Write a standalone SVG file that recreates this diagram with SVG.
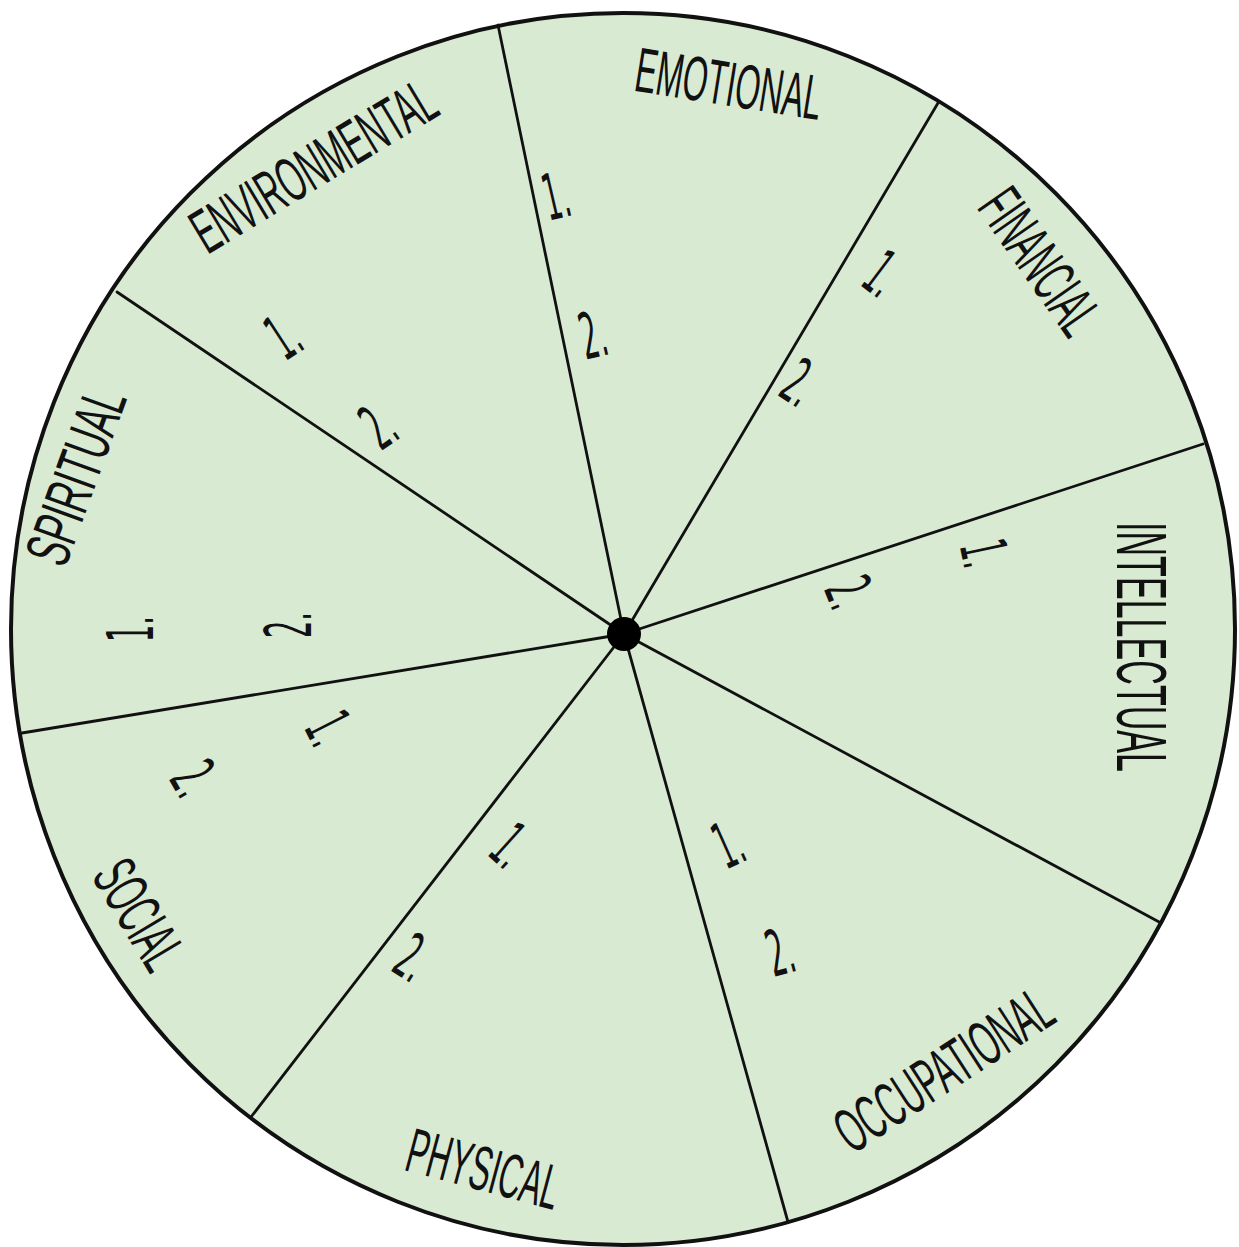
<svg xmlns="http://www.w3.org/2000/svg" width="1239" height="1247" viewBox="0 0 1239 1247">
<style>
.lbl{font-family:"Liberation Sans","Arial",sans-serif;font-size:36px;fill:#111;text-anchor:middle}
.num{font-family:"DejaVu Sans","Liberation Sans",sans-serif;font-size:32px;fill:#111;text-anchor:middle}
.spoke{stroke:#111;stroke-width:2.8;fill:none;stroke-linecap:round}
</style>
<rect width="1239" height="1247" fill="#ffffff"/>
<g id="wheel">
<ellipse cx="623" cy="629" rx="612" ry="616" fill="#d9ead3" stroke="#111" stroke-width="4"/>
</g>
<g id="connectors">
<line class="spoke" x1="624" y1="634" x2="498" y2="25"/>
<line class="spoke" x1="624" y1="634" x2="938" y2="103"/>
<line class="spoke" x1="624" y1="634" x2="1203" y2="444"/>
<line class="spoke" x1="624" y1="634" x2="1161" y2="923"/>
<line class="spoke" x1="624" y1="634" x2="788" y2="1222"/>
<line class="spoke" x1="624" y1="634" x2="251" y2="1117"/>
<line class="spoke" x1="624" y1="634" x2="22" y2="733"/>
<line class="spoke" x1="624" y1="634" x2="117" y2="292"/>
</g>
<g id="hub"><circle cx="624" cy="634" r="17" fill="#000"/></g>

<g id="environmental">
<g transform="translate(313,165) rotate(-31) scale(1,1.75)"><text class="lbl" x="0" y="12.9" textLength="274" lengthAdjust="spacingAndGlyphs">ENVIRONMENTAL</text></g>
<g transform="translate(283,335) rotate(-33) scale(0.85,2)"><text class="num" x="0" y="11.7">1.</text></g>
<g transform="translate(378,425) rotate(-35) scale(0.85,2)"><text class="num" x="0" y="11.7">2.</text></g>
</g>

<g id="emotional">
<g transform="translate(729,83) rotate(9) scale(1,1.75)"><text class="lbl" x="0" y="12.9" textLength="188" lengthAdjust="spacingAndGlyphs">EMOTIONAL</text></g>
<g transform="translate(556,195) rotate(-13) scale(0.85,2)"><text class="num" x="0" y="11.7">1.</text></g>
<g transform="translate(593,334) rotate(-13) scale(0.85,2)"><text class="num" x="0" y="11.7">2.</text></g>
</g>

<g id="financial">
<g transform="translate(1041,261) rotate(55) scale(1,1.75)"><text class="lbl" x="0" y="12.9" textLength="162" lengthAdjust="spacingAndGlyphs">FINANCIAL</text></g>
<g transform="translate(883,273) rotate(37) scale(0.85,2)"><text class="num" x="0" y="11.7">1.</text></g>
<g transform="translate(800,382) rotate(33) scale(0.85,2)"><text class="num" x="0" y="11.7">2.</text></g>
</g>

<g id="intellectual">
<g transform="translate(1142,647) rotate(90) scale(1,1.95)"><text class="lbl" x="0" y="12.9" textLength="250" lengthAdjust="spacingAndGlyphs">INTELLECTUAL</text></g>
<g transform="translate(985,553) rotate(78) scale(0.85,2)"><text class="num" x="0" y="11.7">1.</text></g>
<g transform="translate(850,592) rotate(68) scale(0.85,2)"><text class="num" x="0" y="11.7">2.</text></g>
</g>

<g id="occupational">
<g transform="translate(943,1069) rotate(-33) scale(1,1.75)"><text class="lbl" x="0" y="12.9" textLength="246" lengthAdjust="spacingAndGlyphs">OCCUPATIONAL</text></g>
<g transform="translate(728,843) rotate(-24) scale(0.85,2)"><text class="num" x="0" y="11.7">1.</text></g>
<g transform="translate(780,951) rotate(-15) scale(0.85,2)"><text class="num" x="0" y="11.7">2.</text></g>
</g>

<g id="physical">
<g transform="translate(484,1168) rotate(15) scale(1,1.75)"><text class="lbl" x="0" y="12.9" textLength="156" lengthAdjust="spacingAndGlyphs">PHYSICAL</text></g>
<g transform="translate(511,845) rotate(42) scale(0.85,2)"><text class="num" x="0" y="11.7">1.</text></g>
<g transform="translate(413,957) rotate(32) scale(0.85,2)"><text class="num" x="0" y="11.7">2.</text></g>
</g>

<g id="social">
<g transform="translate(140,914) rotate(59) scale(1,1.75)"><text class="lbl" x="0" y="12.9" textLength="116" lengthAdjust="spacingAndGlyphs">SOCIAL</text></g>
<g transform="translate(330,728) rotate(63) scale(0.85,2)"><text class="num" x="0" y="11.7">1.</text></g>
<g transform="translate(195,778) rotate(60) scale(0.85,2)"><text class="num" x="0" y="11.7">2.</text></g>
</g>

<g id="spiritual">
<g transform="translate(75,476) rotate(-70) scale(1,1.75)"><text class="lbl" x="0" y="12.9" textLength="182" lengthAdjust="spacingAndGlyphs">SPIRITUAL</text></g>
<g transform="translate(130,629) rotate(-90) scale(0.85,2)"><text class="num" x="0" y="11.7">1.</text></g>
<g transform="translate(288,625) rotate(-90) scale(0.85,2)"><text class="num" x="0" y="11.7">2.</text></g>
</g>
</svg>
